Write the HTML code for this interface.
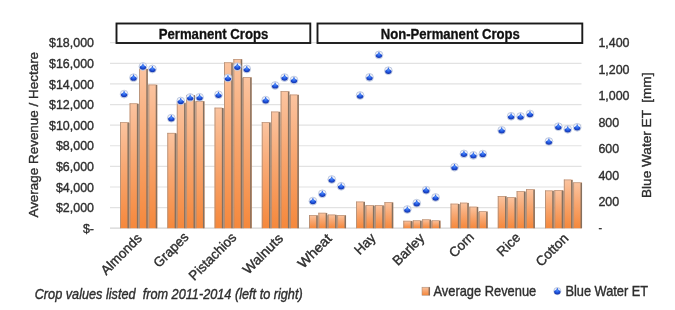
<!DOCTYPE html><html><head><meta charset="utf-8"><style>html,body{margin:0;padding:0;background:#fff;width:675px;height:310px;overflow:hidden}svg{display:block;filter:blur(0.4px)}text{font-family:"Liberation Sans",sans-serif;fill:#2e2e2e}.s{stroke:#2e2e2e;stroke-width:0.38}</style></head><body>
<svg width="675" height="310" viewBox="0 0 675 310">
<defs><linearGradient id="bg" x1="0" y1="0" x2="0" y2="1"><stop offset="0" stop-color="#fbc4a0"/><stop offset="0.45" stop-color="#f8a771"/><stop offset="1" stop-color="#f5883c"/></linearGradient><radialGradient id="mk" cx="0.5" cy="0.38" r="0.7"><stop offset="0" stop-color="#508ef8"/><stop offset="0.45" stop-color="#2258e2"/><stop offset="1" stop-color="#0a2496"/></radialGradient></defs>
<line x1="110.0" y1="42.70" x2="581.5" y2="42.70" stroke="#e2e2e2" stroke-width="1.2"/>
<line x1="110.0" y1="63.31" x2="581.5" y2="63.31" stroke="#e2e2e2" stroke-width="1.2"/>
<line x1="110.0" y1="83.92" x2="581.5" y2="83.92" stroke="#e2e2e2" stroke-width="1.2"/>
<line x1="110.0" y1="104.53" x2="581.5" y2="104.53" stroke="#e2e2e2" stroke-width="1.2"/>
<line x1="110.0" y1="125.14" x2="581.5" y2="125.14" stroke="#e2e2e2" stroke-width="1.2"/>
<line x1="110.0" y1="145.76" x2="581.5" y2="145.76" stroke="#e2e2e2" stroke-width="1.2"/>
<line x1="110.0" y1="166.37" x2="581.5" y2="166.37" stroke="#e2e2e2" stroke-width="1.2"/>
<line x1="110.0" y1="186.98" x2="581.5" y2="186.98" stroke="#e2e2e2" stroke-width="1.2"/>
<line x1="110.0" y1="207.59" x2="581.5" y2="207.59" stroke="#e2e2e2" stroke-width="1.2"/>
<line x1="110.0" y1="228.20" x2="581.5" y2="228.20" stroke="#d4d4d4" stroke-width="1.2"/>
<text transform="translate(94,47.30) scale(0.93,1)" text-anchor="end" font-size="13.4" class="s">$18,000</text>
<text transform="translate(94,67.91) scale(0.93,1)" text-anchor="end" font-size="13.4" class="s">$16,000</text>
<text transform="translate(94,88.52) scale(0.93,1)" text-anchor="end" font-size="13.4" class="s">$14,000</text>
<text transform="translate(94,109.13) scale(0.93,1)" text-anchor="end" font-size="13.4" class="s">$12,000</text>
<text transform="translate(94,129.74) scale(0.93,1)" text-anchor="end" font-size="13.4" class="s">$10,000</text>
<text transform="translate(94,150.36) scale(0.93,1)" text-anchor="end" font-size="13.4" class="s">$8,000</text>
<text transform="translate(94,170.97) scale(0.93,1)" text-anchor="end" font-size="13.4" class="s">$6,000</text>
<text transform="translate(94,191.58) scale(0.93,1)" text-anchor="end" font-size="13.4" class="s">$4,000</text>
<text transform="translate(94,212.19) scale(0.93,1)" text-anchor="end" font-size="13.4" class="s">$2,000</text>
<text transform="translate(94,232.80) scale(0.93,1)" text-anchor="end" font-size="13.4" class="s">$-</text>
<text transform="translate(598.4,47.30) scale(0.93,1)" font-size="13.4" class="s">1,400</text>
<text transform="translate(598.4,73.80) scale(0.93,1)" font-size="13.4" class="s">1,200</text>
<text transform="translate(598.4,100.30) scale(0.93,1)" font-size="13.4" class="s">1,000</text>
<text transform="translate(598.4,126.80) scale(0.93,1)" font-size="13.4" class="s">800</text>
<text transform="translate(598.4,153.30) scale(0.93,1)" font-size="13.4" class="s">600</text>
<text transform="translate(598.4,179.80) scale(0.93,1)" font-size="13.4" class="s">400</text>
<text transform="translate(598.4,206.30) scale(0.93,1)" font-size="13.4" class="s">200</text>
<text transform="translate(598.4,232.00) scale(0.8,1)" font-size="13.4" class="s">-</text>
<rect x="120.20" y="122.20" width="8.75" height="106.00" fill="url(#bg)"/>
<rect x="120.20" y="122.20" width="7.25" height="0.7" fill="#b8927a"/>
<rect x="120.20" y="122.20" width="0.8" height="106.00" fill="#ad8c76"/>
<rect x="127.45" y="122.50" width="1.5" height="105.70" fill="#85705f"/>
<rect x="128.85" y="122.80" width="0.88" height="105.40" fill="#a08b7c"/>
<rect x="129.63" y="103.40" width="8.75" height="124.80" fill="url(#bg)"/>
<rect x="129.63" y="103.40" width="7.25" height="0.7" fill="#b8927a"/>
<rect x="129.63" y="103.40" width="0.8" height="124.80" fill="#ad8c76"/>
<rect x="136.88" y="103.70" width="1.5" height="124.50" fill="#85705f"/>
<rect x="138.28" y="104.00" width="0.88" height="124.20" fill="#a08b7c"/>
<rect x="139.06" y="68.70" width="8.75" height="159.50" fill="url(#bg)"/>
<rect x="139.06" y="68.70" width="7.25" height="0.7" fill="#b8927a"/>
<rect x="139.06" y="68.70" width="0.8" height="159.50" fill="#ad8c76"/>
<rect x="146.31" y="69.00" width="1.5" height="159.20" fill="#85705f"/>
<rect x="147.71" y="85.20" width="0.88" height="143.00" fill="#a08b7c"/>
<rect x="148.49" y="84.60" width="8.75" height="143.60" fill="url(#bg)"/>
<rect x="148.49" y="84.60" width="7.25" height="0.7" fill="#b8927a"/>
<rect x="148.49" y="84.60" width="0.8" height="143.60" fill="#ad8c76"/>
<rect x="155.74" y="84.90" width="1.5" height="143.30" fill="#85705f"/>
<rect x="167.40" y="132.90" width="8.75" height="95.30" fill="url(#bg)"/>
<rect x="167.40" y="132.90" width="7.25" height="0.7" fill="#b8927a"/>
<rect x="167.40" y="132.90" width="0.8" height="95.30" fill="#ad8c76"/>
<rect x="174.65" y="133.20" width="1.5" height="95.00" fill="#85705f"/>
<rect x="176.05" y="133.50" width="0.88" height="94.70" fill="#a08b7c"/>
<rect x="176.83" y="102.50" width="8.75" height="125.70" fill="url(#bg)"/>
<rect x="176.83" y="102.50" width="7.25" height="0.7" fill="#b8927a"/>
<rect x="176.83" y="102.50" width="0.8" height="125.70" fill="#ad8c76"/>
<rect x="184.08" y="102.80" width="1.5" height="125.40" fill="#85705f"/>
<rect x="185.48" y="103.10" width="0.88" height="125.10" fill="#a08b7c"/>
<rect x="186.26" y="95.00" width="8.75" height="133.20" fill="url(#bg)"/>
<rect x="186.26" y="95.00" width="7.25" height="0.7" fill="#b8927a"/>
<rect x="186.26" y="95.00" width="0.8" height="133.20" fill="#ad8c76"/>
<rect x="193.51" y="95.30" width="1.5" height="132.90" fill="#85705f"/>
<rect x="194.91" y="101.60" width="0.88" height="126.60" fill="#a08b7c"/>
<rect x="195.69" y="101.00" width="8.75" height="127.20" fill="url(#bg)"/>
<rect x="195.69" y="101.00" width="7.25" height="0.7" fill="#b8927a"/>
<rect x="195.69" y="101.00" width="0.8" height="127.20" fill="#ad8c76"/>
<rect x="202.94" y="101.30" width="1.5" height="126.90" fill="#85705f"/>
<rect x="214.60" y="107.70" width="8.75" height="120.50" fill="url(#bg)"/>
<rect x="214.60" y="107.70" width="7.25" height="0.7" fill="#b8927a"/>
<rect x="214.60" y="107.70" width="0.8" height="120.50" fill="#ad8c76"/>
<rect x="221.85" y="108.00" width="1.5" height="120.20" fill="#85705f"/>
<rect x="223.25" y="108.30" width="0.88" height="119.90" fill="#a08b7c"/>
<rect x="224.03" y="62.40" width="8.75" height="165.80" fill="url(#bg)"/>
<rect x="224.03" y="62.40" width="7.25" height="0.7" fill="#b8927a"/>
<rect x="224.03" y="62.40" width="0.8" height="165.80" fill="#ad8c76"/>
<rect x="231.28" y="62.70" width="1.5" height="165.50" fill="#85705f"/>
<rect x="232.68" y="63.00" width="0.88" height="165.20" fill="#a08b7c"/>
<rect x="233.46" y="59.00" width="8.75" height="169.20" fill="url(#bg)"/>
<rect x="233.46" y="59.00" width="7.25" height="0.7" fill="#b8927a"/>
<rect x="233.46" y="59.00" width="0.8" height="169.20" fill="#ad8c76"/>
<rect x="240.71" y="59.30" width="1.5" height="168.90" fill="#85705f"/>
<rect x="242.11" y="77.70" width="0.88" height="150.50" fill="#a08b7c"/>
<rect x="242.89" y="77.10" width="8.75" height="151.10" fill="url(#bg)"/>
<rect x="242.89" y="77.10" width="7.25" height="0.7" fill="#b8927a"/>
<rect x="242.89" y="77.10" width="0.8" height="151.10" fill="#ad8c76"/>
<rect x="250.14" y="77.40" width="1.5" height="150.80" fill="#85705f"/>
<rect x="261.80" y="122.20" width="8.75" height="106.00" fill="url(#bg)"/>
<rect x="261.80" y="122.20" width="7.25" height="0.7" fill="#b8927a"/>
<rect x="261.80" y="122.20" width="0.8" height="106.00" fill="#ad8c76"/>
<rect x="269.05" y="122.50" width="1.5" height="105.70" fill="#85705f"/>
<rect x="270.45" y="122.80" width="0.88" height="105.40" fill="#a08b7c"/>
<rect x="271.23" y="111.60" width="8.75" height="116.60" fill="url(#bg)"/>
<rect x="271.23" y="111.60" width="7.25" height="0.7" fill="#b8927a"/>
<rect x="271.23" y="111.60" width="0.8" height="116.60" fill="#ad8c76"/>
<rect x="278.48" y="111.90" width="1.5" height="116.30" fill="#85705f"/>
<rect x="279.88" y="112.20" width="0.88" height="116.00" fill="#a08b7c"/>
<rect x="280.66" y="91.20" width="8.75" height="137.00" fill="url(#bg)"/>
<rect x="280.66" y="91.20" width="7.25" height="0.7" fill="#b8927a"/>
<rect x="280.66" y="91.20" width="0.8" height="137.00" fill="#ad8c76"/>
<rect x="287.91" y="91.50" width="1.5" height="136.70" fill="#85705f"/>
<rect x="289.31" y="95.20" width="0.88" height="133.00" fill="#a08b7c"/>
<rect x="290.09" y="94.60" width="8.75" height="133.60" fill="url(#bg)"/>
<rect x="290.09" y="94.60" width="7.25" height="0.7" fill="#b8927a"/>
<rect x="290.09" y="94.60" width="0.8" height="133.60" fill="#ad8c76"/>
<rect x="297.34" y="94.90" width="1.5" height="133.30" fill="#85705f"/>
<rect x="309.00" y="215.10" width="8.75" height="13.10" fill="url(#bg)"/>
<rect x="309.00" y="215.10" width="7.25" height="0.7" fill="#b8927a"/>
<rect x="309.00" y="215.10" width="0.8" height="13.10" fill="#ad8c76"/>
<rect x="316.25" y="215.40" width="1.5" height="12.80" fill="#85705f"/>
<rect x="317.65" y="215.70" width="0.88" height="12.50" fill="#a08b7c"/>
<rect x="318.43" y="212.80" width="8.75" height="15.40" fill="url(#bg)"/>
<rect x="318.43" y="212.80" width="7.25" height="0.7" fill="#b8927a"/>
<rect x="318.43" y="212.80" width="0.8" height="15.40" fill="#ad8c76"/>
<rect x="325.68" y="213.10" width="1.5" height="15.10" fill="#85705f"/>
<rect x="327.08" y="215.20" width="0.88" height="13.00" fill="#a08b7c"/>
<rect x="327.86" y="214.60" width="8.75" height="13.60" fill="url(#bg)"/>
<rect x="327.86" y="214.60" width="7.25" height="0.7" fill="#b8927a"/>
<rect x="327.86" y="214.60" width="0.8" height="13.60" fill="#ad8c76"/>
<rect x="335.11" y="214.90" width="1.5" height="13.30" fill="#85705f"/>
<rect x="336.51" y="215.70" width="0.88" height="12.50" fill="#a08b7c"/>
<rect x="337.29" y="215.10" width="8.75" height="13.10" fill="url(#bg)"/>
<rect x="337.29" y="215.10" width="7.25" height="0.7" fill="#b8927a"/>
<rect x="337.29" y="215.10" width="0.8" height="13.10" fill="#ad8c76"/>
<rect x="344.54" y="215.40" width="1.5" height="12.80" fill="#85705f"/>
<rect x="356.20" y="201.60" width="8.75" height="26.60" fill="url(#bg)"/>
<rect x="356.20" y="201.60" width="7.25" height="0.7" fill="#b8927a"/>
<rect x="356.20" y="201.60" width="0.8" height="26.60" fill="#ad8c76"/>
<rect x="363.45" y="201.90" width="1.5" height="26.30" fill="#85705f"/>
<rect x="364.85" y="205.80" width="0.88" height="22.40" fill="#a08b7c"/>
<rect x="365.63" y="205.20" width="8.75" height="23.00" fill="url(#bg)"/>
<rect x="365.63" y="205.20" width="7.25" height="0.7" fill="#b8927a"/>
<rect x="365.63" y="205.20" width="0.8" height="23.00" fill="#ad8c76"/>
<rect x="372.88" y="205.50" width="1.5" height="22.70" fill="#85705f"/>
<rect x="374.28" y="205.80" width="0.88" height="22.40" fill="#a08b7c"/>
<rect x="375.06" y="205.20" width="8.75" height="23.00" fill="url(#bg)"/>
<rect x="375.06" y="205.20" width="7.25" height="0.7" fill="#b8927a"/>
<rect x="375.06" y="205.20" width="0.8" height="23.00" fill="#ad8c76"/>
<rect x="382.31" y="205.50" width="1.5" height="22.70" fill="#85705f"/>
<rect x="383.71" y="205.80" width="0.88" height="22.40" fill="#a08b7c"/>
<rect x="384.49" y="202.20" width="8.75" height="26.00" fill="url(#bg)"/>
<rect x="384.49" y="202.20" width="7.25" height="0.7" fill="#b8927a"/>
<rect x="384.49" y="202.20" width="0.8" height="26.00" fill="#ad8c76"/>
<rect x="391.74" y="202.50" width="1.5" height="25.70" fill="#85705f"/>
<rect x="403.40" y="220.80" width="8.75" height="7.40" fill="url(#bg)"/>
<rect x="403.40" y="220.80" width="7.25" height="0.7" fill="#b8927a"/>
<rect x="403.40" y="220.80" width="0.8" height="7.40" fill="#ad8c76"/>
<rect x="410.65" y="221.10" width="1.5" height="7.10" fill="#85705f"/>
<rect x="412.05" y="221.40" width="0.88" height="6.80" fill="#a08b7c"/>
<rect x="412.83" y="220.40" width="8.75" height="7.80" fill="url(#bg)"/>
<rect x="412.83" y="220.40" width="7.25" height="0.7" fill="#b8927a"/>
<rect x="412.83" y="220.40" width="0.8" height="7.80" fill="#ad8c76"/>
<rect x="420.08" y="220.70" width="1.5" height="7.50" fill="#85705f"/>
<rect x="421.48" y="221.00" width="0.88" height="7.20" fill="#a08b7c"/>
<rect x="422.26" y="219.40" width="8.75" height="8.80" fill="url(#bg)"/>
<rect x="422.26" y="219.40" width="7.25" height="0.7" fill="#b8927a"/>
<rect x="422.26" y="219.40" width="0.8" height="8.80" fill="#ad8c76"/>
<rect x="429.51" y="219.70" width="1.5" height="8.50" fill="#85705f"/>
<rect x="430.91" y="221.00" width="0.88" height="7.20" fill="#a08b7c"/>
<rect x="431.69" y="220.40" width="8.75" height="7.80" fill="url(#bg)"/>
<rect x="431.69" y="220.40" width="7.25" height="0.7" fill="#b8927a"/>
<rect x="431.69" y="220.40" width="0.8" height="7.80" fill="#ad8c76"/>
<rect x="438.94" y="220.70" width="1.5" height="7.50" fill="#85705f"/>
<rect x="450.60" y="203.70" width="8.75" height="24.50" fill="url(#bg)"/>
<rect x="450.60" y="203.70" width="7.25" height="0.7" fill="#b8927a"/>
<rect x="450.60" y="203.70" width="0.8" height="24.50" fill="#ad8c76"/>
<rect x="457.85" y="204.00" width="1.5" height="24.20" fill="#85705f"/>
<rect x="459.25" y="204.30" width="0.88" height="23.90" fill="#a08b7c"/>
<rect x="460.03" y="202.70" width="8.75" height="25.50" fill="url(#bg)"/>
<rect x="460.03" y="202.70" width="7.25" height="0.7" fill="#b8927a"/>
<rect x="460.03" y="202.70" width="0.8" height="25.50" fill="#ad8c76"/>
<rect x="467.28" y="203.00" width="1.5" height="25.20" fill="#85705f"/>
<rect x="468.68" y="207.30" width="0.88" height="20.90" fill="#a08b7c"/>
<rect x="469.46" y="206.70" width="8.75" height="21.50" fill="url(#bg)"/>
<rect x="469.46" y="206.70" width="7.25" height="0.7" fill="#b8927a"/>
<rect x="469.46" y="206.70" width="0.8" height="21.50" fill="#ad8c76"/>
<rect x="476.71" y="207.00" width="1.5" height="21.20" fill="#85705f"/>
<rect x="478.11" y="211.90" width="0.88" height="16.30" fill="#a08b7c"/>
<rect x="478.89" y="211.30" width="8.75" height="16.90" fill="url(#bg)"/>
<rect x="478.89" y="211.30" width="7.25" height="0.7" fill="#b8927a"/>
<rect x="478.89" y="211.30" width="0.8" height="16.90" fill="#ad8c76"/>
<rect x="486.14" y="211.60" width="1.5" height="16.60" fill="#85705f"/>
<rect x="497.80" y="196.00" width="8.75" height="32.20" fill="url(#bg)"/>
<rect x="497.80" y="196.00" width="7.25" height="0.7" fill="#b8927a"/>
<rect x="497.80" y="196.00" width="0.8" height="32.20" fill="#ad8c76"/>
<rect x="505.05" y="196.30" width="1.5" height="31.90" fill="#85705f"/>
<rect x="506.45" y="197.80" width="0.88" height="30.40" fill="#a08b7c"/>
<rect x="507.23" y="197.20" width="8.75" height="31.00" fill="url(#bg)"/>
<rect x="507.23" y="197.20" width="7.25" height="0.7" fill="#b8927a"/>
<rect x="507.23" y="197.20" width="0.8" height="31.00" fill="#ad8c76"/>
<rect x="514.48" y="197.50" width="1.5" height="30.70" fill="#85705f"/>
<rect x="515.88" y="197.80" width="0.88" height="30.40" fill="#a08b7c"/>
<rect x="516.66" y="191.20" width="8.75" height="37.00" fill="url(#bg)"/>
<rect x="516.66" y="191.20" width="7.25" height="0.7" fill="#b8927a"/>
<rect x="516.66" y="191.20" width="0.8" height="37.00" fill="#ad8c76"/>
<rect x="523.91" y="191.50" width="1.5" height="36.70" fill="#85705f"/>
<rect x="525.31" y="191.80" width="0.88" height="36.40" fill="#a08b7c"/>
<rect x="526.09" y="189.20" width="8.75" height="39.00" fill="url(#bg)"/>
<rect x="526.09" y="189.20" width="7.25" height="0.7" fill="#b8927a"/>
<rect x="526.09" y="189.20" width="0.8" height="39.00" fill="#ad8c76"/>
<rect x="533.34" y="189.50" width="1.5" height="38.70" fill="#85705f"/>
<rect x="545.00" y="190.50" width="8.75" height="37.70" fill="url(#bg)"/>
<rect x="545.00" y="190.50" width="7.25" height="0.7" fill="#b8927a"/>
<rect x="545.00" y="190.50" width="0.8" height="37.70" fill="#ad8c76"/>
<rect x="552.25" y="190.80" width="1.5" height="37.40" fill="#85705f"/>
<rect x="553.65" y="191.10" width="0.88" height="37.10" fill="#a08b7c"/>
<rect x="554.43" y="190.10" width="8.75" height="38.10" fill="url(#bg)"/>
<rect x="554.43" y="190.10" width="7.25" height="0.7" fill="#b8927a"/>
<rect x="554.43" y="190.10" width="0.8" height="38.10" fill="#ad8c76"/>
<rect x="561.68" y="190.40" width="1.5" height="37.80" fill="#85705f"/>
<rect x="563.08" y="190.70" width="0.88" height="37.50" fill="#a08b7c"/>
<rect x="563.86" y="179.60" width="8.75" height="48.60" fill="url(#bg)"/>
<rect x="563.86" y="179.60" width="7.25" height="0.7" fill="#b8927a"/>
<rect x="563.86" y="179.60" width="0.8" height="48.60" fill="#ad8c76"/>
<rect x="571.11" y="179.90" width="1.5" height="48.30" fill="#85705f"/>
<rect x="572.51" y="183.00" width="0.88" height="45.20" fill="#a08b7c"/>
<rect x="573.29" y="182.40" width="8.75" height="45.80" fill="url(#bg)"/>
<rect x="573.29" y="182.40" width="7.25" height="0.7" fill="#b8927a"/>
<rect x="573.29" y="182.40" width="0.8" height="45.80" fill="#ad8c76"/>
<rect x="580.54" y="182.70" width="1.5" height="45.50" fill="#85705f"/>
<circle cx="124.10" cy="94.10" r="3.90" fill="#f0f3fa" stroke="#a2b2d2" stroke-width="0.65"/><path d="M120.85 94.57 C120.85 93.45 122.80 93.36 123.26 92.52 C123.59 91.68 123.64 90.98 124.10 90.98 C124.57 90.98 124.61 91.68 124.94 92.52 C125.40 93.36 127.36 93.45 127.36 94.57 A3.26 2.88 0 0 1 120.85 94.57 Z" fill="url(#mk)"/>
<circle cx="133.53" cy="77.70" r="3.90" fill="#f0f3fa" stroke="#a2b2d2" stroke-width="0.65"/><path d="M130.28 78.17 C130.28 77.05 132.23 76.96 132.69 76.12 C133.02 75.28 133.06 74.58 133.53 74.58 C134.00 74.58 134.04 75.28 134.37 76.12 C134.83 76.96 136.78 77.05 136.78 78.17 A3.26 2.88 0 0 1 130.28 78.17 Z" fill="url(#mk)"/>
<circle cx="142.96" cy="66.50" r="3.90" fill="#f0f3fa" stroke="#a2b2d2" stroke-width="0.65"/><path d="M139.71 66.97 C139.71 65.85 141.66 65.76 142.12 64.92 C142.45 64.08 142.50 63.38 142.96 63.38 C143.43 63.38 143.47 64.08 143.80 64.92 C144.26 65.76 146.22 65.85 146.22 66.97 A3.26 2.88 0 0 1 139.71 66.97 Z" fill="url(#mk)"/>
<circle cx="152.39" cy="69.00" r="3.90" fill="#f0f3fa" stroke="#a2b2d2" stroke-width="0.65"/><path d="M149.14 69.47 C149.14 68.35 151.09 68.26 151.55 67.42 C151.88 66.58 151.93 65.88 152.39 65.88 C152.86 65.88 152.90 66.58 153.23 67.42 C153.69 68.26 155.65 68.35 155.65 69.47 A3.26 2.88 0 0 1 149.14 69.47 Z" fill="url(#mk)"/>
<circle cx="171.30" cy="118.20" r="3.90" fill="#f0f3fa" stroke="#a2b2d2" stroke-width="0.65"/><path d="M168.05 118.67 C168.05 117.55 170.00 117.46 170.46 116.62 C170.79 115.78 170.84 115.08 171.30 115.08 C171.77 115.08 171.81 115.78 172.14 116.62 C172.60 117.46 174.56 117.55 174.56 118.67 A3.26 2.88 0 0 1 168.05 118.67 Z" fill="url(#mk)"/>
<circle cx="180.73" cy="101.00" r="3.90" fill="#f0f3fa" stroke="#a2b2d2" stroke-width="0.65"/><path d="M177.48 101.47 C177.48 100.35 179.43 100.26 179.89 99.42 C180.22 98.58 180.27 97.88 180.73 97.88 C181.20 97.88 181.24 98.58 181.57 99.42 C182.03 100.26 183.99 100.35 183.99 101.47 A3.26 2.88 0 0 1 177.48 101.47 Z" fill="url(#mk)"/>
<circle cx="190.16" cy="97.50" r="3.90" fill="#f0f3fa" stroke="#a2b2d2" stroke-width="0.65"/><path d="M186.91 97.97 C186.91 96.85 188.86 96.76 189.32 95.92 C189.65 95.08 189.69 94.38 190.16 94.38 C190.62 94.38 190.67 95.08 191.00 95.92 C191.46 96.76 193.41 96.85 193.41 97.97 A3.26 2.88 0 0 1 186.91 97.97 Z" fill="url(#mk)"/>
<circle cx="199.59" cy="97.30" r="3.90" fill="#f0f3fa" stroke="#a2b2d2" stroke-width="0.65"/><path d="M196.34 97.77 C196.34 96.65 198.29 96.56 198.75 95.72 C199.08 94.88 199.12 94.18 199.59 94.18 C200.06 94.18 200.10 94.88 200.43 95.72 C200.89 96.56 202.84 96.65 202.84 97.77 A3.26 2.88 0 0 1 196.34 97.77 Z" fill="url(#mk)"/>
<circle cx="218.50" cy="94.80" r="3.90" fill="#f0f3fa" stroke="#a2b2d2" stroke-width="0.65"/><path d="M215.25 95.27 C215.25 94.15 217.20 94.06 217.66 93.22 C217.99 92.38 218.04 91.68 218.50 91.68 C218.97 91.68 219.01 92.38 219.34 93.22 C219.80 94.06 221.76 94.15 221.76 95.27 A3.26 2.88 0 0 1 215.25 95.27 Z" fill="url(#mk)"/>
<circle cx="227.93" cy="78.00" r="3.90" fill="#f0f3fa" stroke="#a2b2d2" stroke-width="0.65"/><path d="M224.68 78.47 C224.68 77.35 226.63 77.26 227.09 76.42 C227.42 75.58 227.47 74.88 227.93 74.88 C228.40 74.88 228.44 75.58 228.77 76.42 C229.23 77.26 231.19 77.35 231.19 78.47 A3.26 2.88 0 0 1 224.68 78.47 Z" fill="url(#mk)"/>
<circle cx="237.36" cy="66.70" r="3.90" fill="#f0f3fa" stroke="#a2b2d2" stroke-width="0.65"/><path d="M234.11 67.17 C234.11 66.05 236.06 65.96 236.52 65.12 C236.85 64.28 236.90 63.58 237.36 63.58 C237.83 63.58 237.87 64.28 238.20 65.12 C238.66 65.96 240.62 66.05 240.62 67.17 A3.26 2.88 0 0 1 234.11 67.17 Z" fill="url(#mk)"/>
<circle cx="246.79" cy="69.00" r="3.90" fill="#f0f3fa" stroke="#a2b2d2" stroke-width="0.65"/><path d="M243.54 69.47 C243.54 68.35 245.49 68.26 245.95 67.42 C246.28 66.58 246.33 65.88 246.79 65.88 C247.26 65.88 247.30 66.58 247.63 67.42 C248.09 68.26 250.05 68.35 250.05 69.47 A3.26 2.88 0 0 1 243.54 69.47 Z" fill="url(#mk)"/>
<circle cx="265.70" cy="100.20" r="3.90" fill="#f0f3fa" stroke="#a2b2d2" stroke-width="0.65"/><path d="M262.44 100.67 C262.44 99.55 264.40 99.46 264.86 98.62 C265.19 97.78 265.24 97.08 265.70 97.08 C266.16 97.08 266.21 97.78 266.54 98.62 C267.00 99.46 268.95 99.55 268.95 100.67 A3.26 2.88 0 0 1 262.44 100.67 Z" fill="url(#mk)"/>
<circle cx="275.13" cy="85.50" r="3.90" fill="#f0f3fa" stroke="#a2b2d2" stroke-width="0.65"/><path d="M271.88 85.97 C271.88 84.85 273.83 84.76 274.29 83.92 C274.62 83.08 274.67 82.38 275.13 82.38 C275.59 82.38 275.64 83.08 275.97 83.92 C276.43 84.76 278.38 84.85 278.38 85.97 A3.26 2.88 0 0 1 271.88 85.97 Z" fill="url(#mk)"/>
<circle cx="284.56" cy="77.60" r="3.90" fill="#f0f3fa" stroke="#a2b2d2" stroke-width="0.65"/><path d="M281.31 78.07 C281.31 76.95 283.26 76.86 283.72 76.02 C284.05 75.18 284.10 74.48 284.56 74.48 C285.02 74.48 285.07 75.18 285.40 76.02 C285.86 76.86 287.81 76.95 287.81 78.07 A3.26 2.88 0 0 1 281.31 78.07 Z" fill="url(#mk)"/>
<circle cx="293.99" cy="80.10" r="3.90" fill="#f0f3fa" stroke="#a2b2d2" stroke-width="0.65"/><path d="M290.74 80.57 C290.74 79.45 292.69 79.36 293.15 78.52 C293.48 77.68 293.53 76.98 293.99 76.98 C294.45 76.98 294.50 77.68 294.83 78.52 C295.29 79.36 297.25 79.45 297.25 80.57 A3.26 2.88 0 0 1 290.74 80.57 Z" fill="url(#mk)"/>
<circle cx="312.90" cy="201.10" r="3.90" fill="#f0f3fa" stroke="#a2b2d2" stroke-width="0.65"/><path d="M309.64 201.56 C309.64 200.45 311.60 200.36 312.06 199.52 C312.39 198.68 312.44 197.98 312.90 197.98 C313.36 197.98 313.41 198.68 313.74 199.52 C314.20 200.36 316.15 200.45 316.15 201.56 A3.26 2.88 0 0 1 309.64 201.56 Z" fill="url(#mk)"/>
<circle cx="322.33" cy="193.80" r="3.90" fill="#f0f3fa" stroke="#a2b2d2" stroke-width="0.65"/><path d="M319.07 194.26 C319.07 193.15 321.03 193.06 321.49 192.22 C321.82 191.38 321.87 190.68 322.33 190.68 C322.79 190.68 322.84 191.38 323.17 192.22 C323.63 193.06 325.58 193.15 325.58 194.26 A3.26 2.88 0 0 1 319.07 194.26 Z" fill="url(#mk)"/>
<circle cx="331.76" cy="179.50" r="3.90" fill="#f0f3fa" stroke="#a2b2d2" stroke-width="0.65"/><path d="M328.50 179.97 C328.50 178.85 330.46 178.76 330.92 177.92 C331.25 177.08 331.30 176.38 331.76 176.38 C332.22 176.38 332.27 177.08 332.60 177.92 C333.06 178.76 335.01 178.85 335.01 179.97 A3.26 2.88 0 0 1 328.50 179.97 Z" fill="url(#mk)"/>
<circle cx="341.19" cy="186.30" r="3.90" fill="#f0f3fa" stroke="#a2b2d2" stroke-width="0.65"/><path d="M337.94 186.76 C337.94 185.65 339.89 185.56 340.35 184.72 C340.68 183.88 340.73 183.18 341.19 183.18 C341.65 183.18 341.70 183.88 342.03 184.72 C342.49 185.56 344.44 185.65 344.44 186.76 A3.26 2.88 0 0 1 337.94 186.76 Z" fill="url(#mk)"/>
<circle cx="360.10" cy="95.50" r="3.90" fill="#f0f3fa" stroke="#a2b2d2" stroke-width="0.65"/><path d="M356.84 95.97 C356.84 94.85 358.80 94.76 359.26 93.92 C359.59 93.08 359.63 92.38 360.10 92.38 C360.56 92.38 360.61 93.08 360.94 93.92 C361.40 94.76 363.35 94.85 363.35 95.97 A3.26 2.88 0 0 1 356.84 95.97 Z" fill="url(#mk)"/>
<circle cx="369.53" cy="77.40" r="3.90" fill="#f0f3fa" stroke="#a2b2d2" stroke-width="0.65"/><path d="M366.27 77.87 C366.27 76.75 368.23 76.66 368.69 75.82 C369.02 74.98 369.06 74.28 369.53 74.28 C369.99 74.28 370.04 74.98 370.37 75.82 C370.83 76.66 372.78 76.75 372.78 77.87 A3.26 2.88 0 0 1 366.27 77.87 Z" fill="url(#mk)"/>
<circle cx="378.96" cy="54.90" r="3.90" fill="#f0f3fa" stroke="#a2b2d2" stroke-width="0.65"/><path d="M375.70 55.37 C375.70 54.25 377.66 54.16 378.12 53.32 C378.45 52.48 378.50 51.78 378.96 51.78 C379.42 51.78 379.47 52.48 379.80 53.32 C380.26 54.16 382.21 54.25 382.21 55.37 A3.26 2.88 0 0 1 375.70 55.37 Z" fill="url(#mk)"/>
<circle cx="388.39" cy="70.70" r="3.90" fill="#f0f3fa" stroke="#a2b2d2" stroke-width="0.65"/><path d="M385.13 71.17 C385.13 70.05 387.09 69.96 387.55 69.12 C387.88 68.28 387.93 67.58 388.39 67.58 C388.85 67.58 388.90 68.28 389.23 69.12 C389.69 69.96 391.64 70.05 391.64 71.17 A3.26 2.88 0 0 1 385.13 71.17 Z" fill="url(#mk)"/>
<circle cx="407.30" cy="209.50" r="3.90" fill="#f0f3fa" stroke="#a2b2d2" stroke-width="0.65"/><path d="M404.05 209.97 C404.05 208.85 406.00 208.76 406.46 207.92 C406.79 207.08 406.84 206.38 407.30 206.38 C407.76 206.38 407.81 207.08 408.14 207.92 C408.60 208.76 410.56 208.85 410.56 209.97 A3.26 2.88 0 0 1 404.05 209.97 Z" fill="url(#mk)"/>
<circle cx="416.73" cy="203.20" r="3.90" fill="#f0f3fa" stroke="#a2b2d2" stroke-width="0.65"/><path d="M413.48 203.66 C413.48 202.55 415.43 202.46 415.89 201.62 C416.22 200.78 416.27 200.08 416.73 200.08 C417.19 200.08 417.24 200.78 417.57 201.62 C418.03 202.46 419.99 202.55 419.99 203.66 A3.26 2.88 0 0 1 413.48 203.66 Z" fill="url(#mk)"/>
<circle cx="426.16" cy="190.20" r="3.90" fill="#f0f3fa" stroke="#a2b2d2" stroke-width="0.65"/><path d="M422.91 190.66 C422.91 189.55 424.86 189.46 425.32 188.62 C425.65 187.78 425.70 187.08 426.16 187.08 C426.62 187.08 426.67 187.78 427.00 188.62 C427.46 189.46 429.42 189.55 429.42 190.66 A3.26 2.88 0 0 1 422.91 190.66 Z" fill="url(#mk)"/>
<circle cx="435.59" cy="197.50" r="3.90" fill="#f0f3fa" stroke="#a2b2d2" stroke-width="0.65"/><path d="M432.34 197.97 C432.34 196.85 434.29 196.76 434.75 195.92 C435.08 195.08 435.13 194.38 435.59 194.38 C436.06 194.38 436.10 195.08 436.43 195.92 C436.89 196.76 438.85 196.85 438.85 197.97 A3.26 2.88 0 0 1 432.34 197.97 Z" fill="url(#mk)"/>
<circle cx="454.50" cy="167.20" r="3.90" fill="#f0f3fa" stroke="#a2b2d2" stroke-width="0.65"/><path d="M451.25 167.66 C451.25 166.55 453.20 166.46 453.66 165.62 C453.99 164.78 454.04 164.08 454.50 164.08 C454.96 164.08 455.01 164.78 455.34 165.62 C455.80 166.46 457.75 166.55 457.75 167.66 A3.26 2.88 0 0 1 451.25 167.66 Z" fill="url(#mk)"/>
<circle cx="463.93" cy="153.90" r="3.90" fill="#f0f3fa" stroke="#a2b2d2" stroke-width="0.65"/><path d="M460.68 154.36 C460.68 153.25 462.63 153.16 463.09 152.32 C463.42 151.48 463.47 150.78 463.93 150.78 C464.39 150.78 464.44 151.48 464.77 152.32 C465.23 153.16 467.19 153.25 467.19 154.36 A3.26 2.88 0 0 1 460.68 154.36 Z" fill="url(#mk)"/>
<circle cx="473.36" cy="155.40" r="3.90" fill="#f0f3fa" stroke="#a2b2d2" stroke-width="0.65"/><path d="M470.11 155.86 C470.11 154.75 472.06 154.66 472.52 153.82 C472.85 152.98 472.90 152.28 473.36 152.28 C473.82 152.28 473.87 152.98 474.20 153.82 C474.66 154.66 476.62 154.75 476.62 155.86 A3.26 2.88 0 0 1 470.11 155.86 Z" fill="url(#mk)"/>
<circle cx="482.79" cy="154.10" r="3.90" fill="#f0f3fa" stroke="#a2b2d2" stroke-width="0.65"/><path d="M479.54 154.56 C479.54 153.45 481.49 153.36 481.95 152.52 C482.28 151.68 482.33 150.98 482.79 150.98 C483.25 150.98 483.30 151.68 483.63 152.52 C484.09 153.36 486.05 153.45 486.05 154.56 A3.26 2.88 0 0 1 479.54 154.56 Z" fill="url(#mk)"/>
<circle cx="501.70" cy="130.30" r="3.90" fill="#f0f3fa" stroke="#a2b2d2" stroke-width="0.65"/><path d="M498.44 130.76 C498.44 129.65 500.40 129.56 500.86 128.72 C501.19 127.88 501.24 127.18 501.70 127.18 C502.16 127.18 502.21 127.88 502.54 128.72 C503.00 129.56 504.95 129.65 504.95 130.76 A3.26 2.88 0 0 1 498.44 130.76 Z" fill="url(#mk)"/>
<circle cx="511.13" cy="116.30" r="3.90" fill="#f0f3fa" stroke="#a2b2d2" stroke-width="0.65"/><path d="M507.88 116.77 C507.88 115.65 509.83 115.56 510.29 114.72 C510.62 113.88 510.67 113.18 511.13 113.18 C511.59 113.18 511.64 113.88 511.97 114.72 C512.43 115.56 514.38 115.65 514.38 116.77 A3.26 2.88 0 0 1 507.88 116.77 Z" fill="url(#mk)"/>
<circle cx="520.56" cy="116.50" r="3.90" fill="#f0f3fa" stroke="#a2b2d2" stroke-width="0.65"/><path d="M517.30 116.97 C517.30 115.85 519.26 115.76 519.72 114.92 C520.05 114.08 520.09 113.38 520.56 113.38 C521.02 113.38 521.07 114.08 521.40 114.92 C521.86 115.76 523.81 115.85 523.81 116.97 A3.26 2.88 0 0 1 517.30 116.97 Z" fill="url(#mk)"/>
<circle cx="529.99" cy="114.00" r="3.90" fill="#f0f3fa" stroke="#a2b2d2" stroke-width="0.65"/><path d="M526.74 114.47 C526.74 113.35 528.69 113.26 529.15 112.42 C529.48 111.58 529.52 110.88 529.99 110.88 C530.46 110.88 530.50 111.58 530.83 112.42 C531.29 113.26 533.25 113.35 533.25 114.47 A3.26 2.88 0 0 1 526.74 114.47 Z" fill="url(#mk)"/>
<circle cx="548.90" cy="141.50" r="3.90" fill="#f0f3fa" stroke="#a2b2d2" stroke-width="0.65"/><path d="M545.64 141.97 C545.64 140.85 547.60 140.76 548.06 139.92 C548.39 139.08 548.43 138.38 548.90 138.38 C549.37 138.38 549.41 139.08 549.74 139.92 C550.20 140.76 552.15 140.85 552.15 141.97 A3.26 2.88 0 0 1 545.64 141.97 Z" fill="url(#mk)"/>
<circle cx="558.33" cy="126.70" r="3.90" fill="#f0f3fa" stroke="#a2b2d2" stroke-width="0.65"/><path d="M555.07 127.17 C555.07 126.05 557.03 125.96 557.49 125.12 C557.82 124.28 557.86 123.58 558.33 123.58 C558.79 123.58 558.84 124.28 559.17 125.12 C559.63 125.96 561.58 126.05 561.58 127.17 A3.26 2.88 0 0 1 555.07 127.17 Z" fill="url(#mk)"/>
<circle cx="567.76" cy="129.30" r="3.90" fill="#f0f3fa" stroke="#a2b2d2" stroke-width="0.65"/><path d="M564.50 129.76 C564.50 128.65 566.46 128.56 566.92 127.72 C567.25 126.88 567.29 126.18 567.76 126.18 C568.23 126.18 568.27 126.88 568.60 127.72 C569.06 128.56 571.01 128.65 571.01 129.76 A3.26 2.88 0 0 1 564.50 129.76 Z" fill="url(#mk)"/>
<circle cx="577.19" cy="127.30" r="3.90" fill="#f0f3fa" stroke="#a2b2d2" stroke-width="0.65"/><path d="M573.93 127.77 C573.93 126.65 575.89 126.56 576.35 125.72 C576.68 124.88 576.72 124.18 577.19 124.18 C577.65 124.18 577.70 124.88 578.03 125.72 C578.49 126.56 580.44 126.65 580.44 127.77 A3.26 2.88 0 0 1 573.93 127.77 Z" fill="url(#mk)"/>
<rect x="116.5" y="23.5" width="193.8" height="19.5" fill="#fff" stroke="#1a1a1a" stroke-width="1.9"/>
<rect x="317.5" y="23.5" width="264.8" height="19.5" fill="#fff" stroke="#1a1a1a" stroke-width="1.9"/>
<text x="158.7" y="39.4" font-size="13.8" font-weight="bold" fill="#111" textLength="109.6" lengthAdjust="spacingAndGlyphs" style="fill:#111;stroke:#111;stroke-width:0.3">Permanent Crops</text>
<text x="380.7" y="38.9" font-size="13.8" font-weight="bold" textLength="139.1" lengthAdjust="spacingAndGlyphs" style="fill:#111;stroke:#111;stroke-width:0.3">Non-Permanent Crops</text>
<text transform="translate(38.2,217.6) rotate(-90)" font-size="13.6" class="s" textLength="165.7" lengthAdjust="spacingAndGlyphs">Average Revenue / Hectare</text>
<text xml:space="preserve" transform="translate(650.8,198) rotate(-90)" font-size="13.2" class="s" textLength="125.5" lengthAdjust="spacingAndGlyphs">Blue Water ET  [mm]</text>
<text transform="translate(142.80,239.10) rotate(-45) scale(0.980,1)" text-anchor="end" font-size="13.6" class="s">Almonds</text>
<text transform="translate(189.40,237.90) rotate(-45) scale(0.960,1)" text-anchor="end" font-size="13.6" class="s">Grapes</text>
<text transform="translate(237.30,238.20) rotate(-45) scale(0.980,1)" text-anchor="end" font-size="13.6" class="s">Pistachios</text>
<text transform="translate(283.90,239.30) rotate(-45) scale(1.040,1)" text-anchor="end" font-size="13.6" class="s">Walnuts</text>
<text transform="translate(332.60,239.50) rotate(-45) scale(1.060,1)" text-anchor="end" font-size="13.6" class="s">Wheat</text>
<text transform="translate(376.50,238.80) rotate(-45) scale(0.980,1)" text-anchor="end" font-size="13.6" class="s">Hay</text>
<text transform="translate(425.20,239.00) rotate(-45) scale(1.000,1)" text-anchor="end" font-size="13.6" class="s">Barley</text>
<text transform="translate(474.80,237.90) rotate(-45) scale(0.980,1)" text-anchor="end" font-size="13.6" class="s">Corn</text>
<text transform="translate(521.20,238.30) rotate(-45) scale(0.980,1)" text-anchor="end" font-size="13.6" class="s">Rice</text>
<text transform="translate(569.20,239.20) rotate(-45) scale(0.990,1)" text-anchor="end" font-size="13.6" class="s">Cotton</text>
<text xml:space="preserve" x="34.7" y="299.4" font-size="13.8" font-style="italic" class="s" textLength="268" lengthAdjust="spacingAndGlyphs">Crop values listed  from 2011-2014 (left to right)</text>
<rect x="422" y="287.2" width="7.8" height="8" fill="url(#bg)" stroke="#a0826e" stroke-width="0.5"/>
<rect x="428.6" y="287.4" width="1.3" height="7.8" fill="#7d6556"/>
<text x="433.5" y="295.8" font-size="13.9" class="s" textLength="102.7" lengthAdjust="spacingAndGlyphs">Average Revenue</text>
<circle cx="557.30" cy="291.10" r="3.60" fill="#f0f3fa" stroke="#a2b2d2" stroke-width="0.65"/><path d="M554.08 291.56 C554.08 290.46 556.01 290.36 556.47 289.54 C556.79 288.71 556.84 288.02 557.30 288.02 C557.76 288.02 557.81 288.71 558.13 289.54 C558.59 290.36 560.52 290.46 560.52 291.56 A3.22 2.85 0 0 1 554.08 291.56 Z" fill="url(#mk)"/>
<text x="565.4" y="295.8" font-size="13.9" class="s" textLength="82.8" lengthAdjust="spacingAndGlyphs">Blue Water ET</text>
</svg></body></html>
